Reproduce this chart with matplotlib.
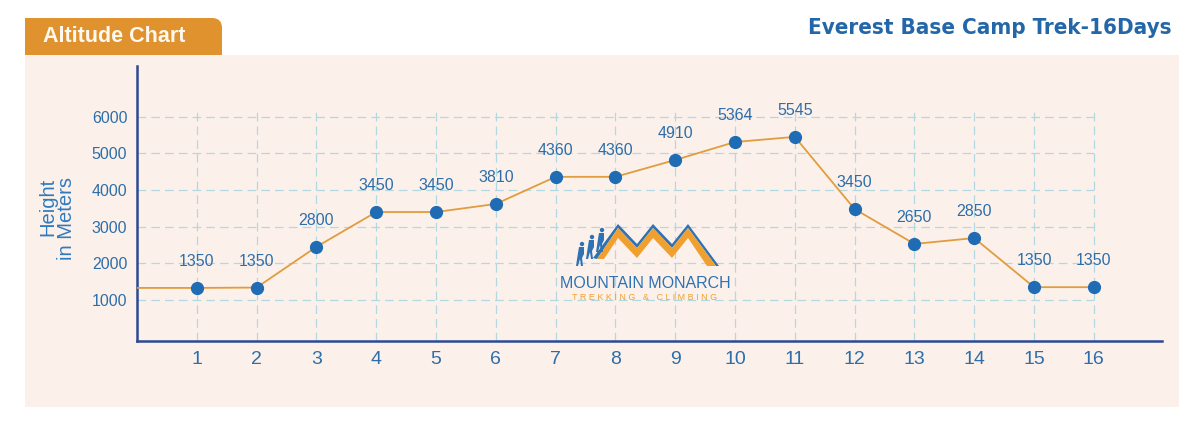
import numpy as np
import matplotlib
matplotlib.use("Agg")
import matplotlib.pyplot as plt
from matplotlib.patches import FancyBboxPatch, Rectangle, Polygon
from matplotlib.transforms import Affine2D
from matplotlib import font_manager as fm

# ---- data ----
days = [1, 2, 3, 4, 5, 6, 7, 8, 9, 10, 11, 12, 13, 14, 15, 16]
heights = [1330, 1340, 2450, 3400, 3400, 3620, 4360, 4360, 4820, 5310, 5450, 3480, 2530, 2690, 1350, 1350]
labels = ["1350", "1350", "2800", "3450", "3450", "3810", "4360", "4360", "4910",
          "5364", "5545", "3450", "2650", "2850", "1350", "1350"]
yticks = [1000, 2000, 3000, 4000, 5000, 6000]
title_left = "Altitude Chart"
title_right = "Everest Base Camp Trek-16Days"
ylabel = "Height\nin Meters"

W, H = 1201, 433
fig = plt.figure(figsize=(W / 100, H / 100), dpi=100)
fig.patch.set_facecolor("white")

# pixel coordinates (y downward) -> figure
PX = Affine2D().scale(1 / W, -1 / H).translate(0, 1) + fig.transFigure

BLUE_TXT = "#2D6EAA"
ORANGE = "#E0922F"
PANEL = "#FCF1EA"

# find a condensed bold font if available
cond = None
for f in fm.fontManager.ttflist:
    nm = f.name.lower()
    st = str(f.stretch).lower()
    isc = ("condensed" in nm or "narrow" in nm or st in ("condensed", "semi-condensed", "extra-condensed"))
    wt = f.weight if isinstance(f.weight, int) else (700 if "bold" in str(f.weight) else 400)
    if isc and wt >= 600 and "italic" not in f.style and "oblique" not in f.style:
        cond = f.fname
        break

# background panel
fig.patches.append(Rectangle((25, 55), 1154, 352, transform=PX, facecolor=PANEL,
                             edgecolor="none", zorder=-5))
# orange tab with rounded top-right corner
fig.patches.append(FancyBboxPatch((25, 18), 197, 37, boxstyle="round,pad=0,rounding_size=10",
                                  transform=PX, facecolor=ORANGE, edgecolor="none", zorder=1))
fig.patches.append(Rectangle((25, 18), 20, 37, transform=PX, facecolor=ORANGE, edgecolor="none", zorder=1))
fig.patches.append(Rectangle((25, 40), 197, 15, transform=PX, facecolor=ORANGE, edgecolor="none", zorder=1))
fig.text(43, 37, title_left, transform=PX, color="#FFF8EE", fontsize=15.5, fontweight="bold",
         family="Liberation Sans", ha="left", va="center", zorder=3)
if cond:
    fig.text(1172, 28, title_right, transform=PX, color="#2467A8",
             fontproperties=fm.FontProperties(fname=cond, size=16), ha="right", va="center")
else:
    fig.text(1172, 28, title_right, transform=PX, color="#2467A8", fontsize=12, fontweight="bold",
             family="Liberation Sans", ha="right", va="center")

# axes
ax = fig.add_axes([137 / W, 1 - 341 / H, (1162 - 137) / W, (341 - 66) / H])
ax.set_facecolor("none")
ax.set_xlim(0, 17.14)
ax.set_ylim(-118, 7383)

grid_c = "#B2D9E2"
for y in yticks:
    ax.plot([0, days[-1]], [y, y], color=grid_c, lw=0.9, ls=(0, (7, 4)), zorder=1)
for d in days:
    ax.plot([d, d], [-118, 6250], color=grid_c, lw=0.9, ls=(0, (7, 4)), zorder=1)

# logo (decorative watermark)
orange_band = [(597, 259), (618, 228), (637, 248), (653, 228), (672, 248), (688, 228), (716, 266),
               (707, 266), (688, 238), (672, 258), (653, 238), (637, 258), (618, 238), (604, 259)]
blue_band = [(593, 258), (618, 224), (637, 244), (653, 224), (672, 244), (688, 224), (719, 266),
             (716, 266), (688, 228), (672, 248), (653, 228), (637, 248), (618, 228), (597, 259)]
ax.add_patch(Polygon(blue_band, closed=True, transform=PX, facecolor="#2C72B5",
                     edgecolor="none", zorder=2))
ax.add_patch(Polygon(orange_band, closed=True, transform=PX, facecolor="#F0A030",
                     edgecolor="none", zorder=2))
for (hx, hy) in [(580, 250), (590, 243), (600, 236)]:
    ax.add_patch(Polygon([(hx - 4, hy + 16), (hx - 2, hy + 3), (hx - 1, hy - 3), (hx + 4, hy - 3),
                          (hx + 4, hy + 4), (hx + 2, hy + 8), (hx + 3, hy + 16), (hx + 1, hy + 16),
                          (hx, hy + 9), (hx - 2, hy + 16)],
                         closed=True, transform=PX, facecolor="#2C72B5", edgecolor="none", zorder=2))
    ax.add_patch(plt.Circle((hx + 2, hy - 6), 2.2, transform=PX, facecolor="#2C72B5",
                            edgecolor="none", zorder=2))
ax.text(645, 284, "MOUNTAIN MONARCH", transform=PX, color="#2C72B5", fontsize=11.5,
        family="Liberation Sans", ha="center", va="center", zorder=2)
ax.text(645, 297, "T R E K K I N G   &   C L I M B I N G", transform=PX, color="#F0A030",
        fontsize=6.5, family="Liberation Sans", ha="center", va="center", zorder=2)

# line and points
ax.plot(np.r_[0, days], np.r_[heights[0], heights], color="#E09C3E", lw=1.3, zorder=3)
ax.plot(days, heights, "o", color="#1F6CB5", ms=8.5, zorder=4)
for d, h, lab in zip(days, heights, labels):
    ax.annotate(lab, (d, h), xytext=(0, 19), textcoords="offset points", ha="center", va="center",
                color=BLUE_TXT, fontsize=11.5, family="Liberation Sans", zorder=5)

# spines
for s in ["top", "right"]:
    ax.spines[s].set_visible(False)
for s in ["left", "bottom"]:
    ax.spines[s].set_color("#2B4A94")
    ax.spines[s].set_linewidth(1.8)

ax.set_yticks(yticks)
ax.set_yticklabels([str(v) for v in yticks], color=BLUE_TXT, fontsize=11.5, family="Liberation Sans")
ax.set_xticks(days)
ax.set_xticklabels([str(d) for d in days], color=BLUE_TXT, fontsize=14, family="Liberation Sans")
ax.tick_params(axis="y", length=0, pad=7)
ax.tick_params(axis="x", length=0, pad=7)

fig.text(57, 219, ylabel, transform=PX, rotation=90, color="#2F7BBF", fontsize=14.5,
         family="Liberation Sans", ha="center", va="center", multialignment="right", linespacing=0.95)

fig.savefig("out.png", dpi=100, facecolor="white")
